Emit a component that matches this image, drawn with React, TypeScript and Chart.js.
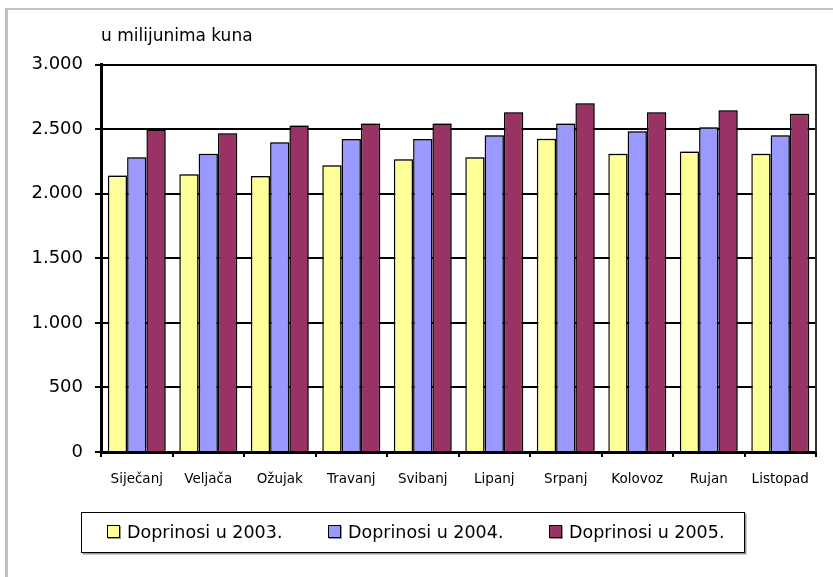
import React, { useEffect, useRef } from "react";
import { Chart, registerables } from "chart.js";

Chart.register(...registerables);

const months = ["Siječanj", "Veljača", "Ožujak", "Travanj", "Svibanj", "Lipanj", "Srpanj", "Kolovoz", "Rujan", "Listopad"];
const d2003 = [2140, 2150, 2137, 2220, 2266, 2282, 2426, 2310, 2326, 2310];
const d2004 = [2281, 2310, 2398, 2424, 2424, 2452, 2543, 2483, 2514, 2452];
const d2005 = [2496, 2468, 2527, 2543, 2543, 2630, 2700, 2630, 2646, 2618];
const seriesLabels = ["Doprinosi u 2003.", "Doprinosi u 2004.", "Doprinosi u 2005."];
const seriesColors = ["#FFFF99", "#9999FF", "#993366"];
const unitLabel = "u milijunima kuna";

const fmt = (v: number) => String(v).replace(/\B(?=(\d{3})+(?!\d))/g, ".");

const shadowPlugin = {
  id: "barShadow",
  beforeDatasetsDraw(chart: any) {
    const ctx = chart.ctx;
    ctx.save();
    ctx.shadowColor = "rgba(0,0,0,0.35)";
    ctx.shadowOffsetX = 1.5;
    ctx.shadowOffsetY = -1;
    ctx.shadowBlur = 0;
  },
  afterDatasetsDraw(chart: any) {
    chart.ctx.restore();
  },
};

const frameRightPlugin = {
  id: "frameRight",
  afterDraw(chart: any) {
    const { ctx, chartArea } = chart;
    ctx.save();
    ctx.strokeStyle = "#333333";
    ctx.lineWidth = 2;
    ctx.beginPath();
    ctx.moveTo(chartArea.right, chartArea.top);
    ctx.lineTo(chartArea.right, chartArea.bottom);
    ctx.stroke();
    ctx.restore();
  },
};

export default function App() {
  const ref = useRef<HTMLCanvasElement | null>(null);

  useEffect(() => {
    if (!ref.current) return;
    const datasets = [d2003, d2004, d2005].map((d, i) => ({
      label: seriesLabels[i],
      data: d,
      backgroundColor: seriesColors[i],
      borderColor: "#000000",
      borderWidth: 1.5,
      barPercentage: 1.0,
      categoryPercentage: 0.81,
    }));
    const chart = new Chart(ref.current, {
      type: "bar",
      data: { labels: months, datasets },
      options: {
        animation: false,
        responsive: false,
        maintainAspectRatio: false,
        layout: { padding: { left: 0, top: 64.5, right: 17, bottom: 0 } },
        plugins: {
          legend: { display: false },
          tooltip: { enabled: false },
          title: { display: false },
        },
        scales: {
          x: {
            offset: true,
            grid: { drawOnChartArea: false, drawTicks: true, tickLength: 5, color: "#000", lineWidth: 2, offset: true },
            border: { color: "#000", width: 3 },
            ticks: {
              color: "#000",
              font: { family: "'DejaVu Sans'", size: 13.5 },
              padding: 14,
              maxRotation: 0,
              autoSkip: false,
            },
            afterFit(scale: any) {
              scale.height = 125;
            },
          },
          y: {
            min: 0,
            max: 3000,
            grid: { color: "#000", lineWidth: 2, tickLength: 6, drawTicks: true },
            border: { color: "#000", width: 3 },
            ticks: {
              stepSize: 500,
              color: "#000",
              font: { family: "'DejaVu Sans'", size: 18 },
              padding: 12,
              callback: (v: any) => fmt(Number(v)),
            },
            afterFit(scale: any) {
              scale.width = 101;
            },
          },
        },
      },
      plugins: [shadowPlugin, frameRightPlugin],
    });
    return () => chart.destroy();
  }, []);

  const legendLefts = [107, 328, 549];

  return (
    <div style={{ position: "fixed", left: 0, top: 0, width: 833, height: 577, background: "#fff", overflow: "hidden" }}>
      <div style={{ position: "absolute", left: 5, top: 8, width: 3, height: 569, background: "#c0c0c0" }} />
      <div style={{ position: "absolute", left: 5, top: 8, width: 828, height: 2, background: "#c0c0c0" }} />
      <canvas ref={ref} width={833} height={577} style={{ position: "absolute", left: 0, top: 0, width: 833, height: 577 }} />
      <div style={{ position: "absolute", left: 101, top: 24.5, fontFamily: "'DejaVu Sans'", fontSize: 17, lineHeight: "20px", color: "#000", whiteSpace: "nowrap" }}>
        {unitLabel}
      </div>
      <div style={{ position: "absolute", left: 81, top: 512, width: 662, height: 39, border: "1.5px solid #000", boxShadow: "1.5px 1.5px 0 #999", background: "#fff" }} />
      {seriesLabels.map((lab, i) => (
        <React.Fragment key={lab}>
          <div style={{ position: "absolute", left: legendLefts[i], top: 525, width: 11, height: 11, border: "1.5px solid #000", background: seriesColors[i], boxShadow: "1px 1px 0 #999" }} />
          <div style={{ position: "absolute", left: legendLefts[i] + 20, top: 522, fontFamily: "'DejaVu Sans'", fontSize: 17.5, lineHeight: "20px", color: "#000", whiteSpace: "nowrap" }}>
            {lab}
          </div>
        </React.Fragment>
      ))}
    </div>
  );
}
